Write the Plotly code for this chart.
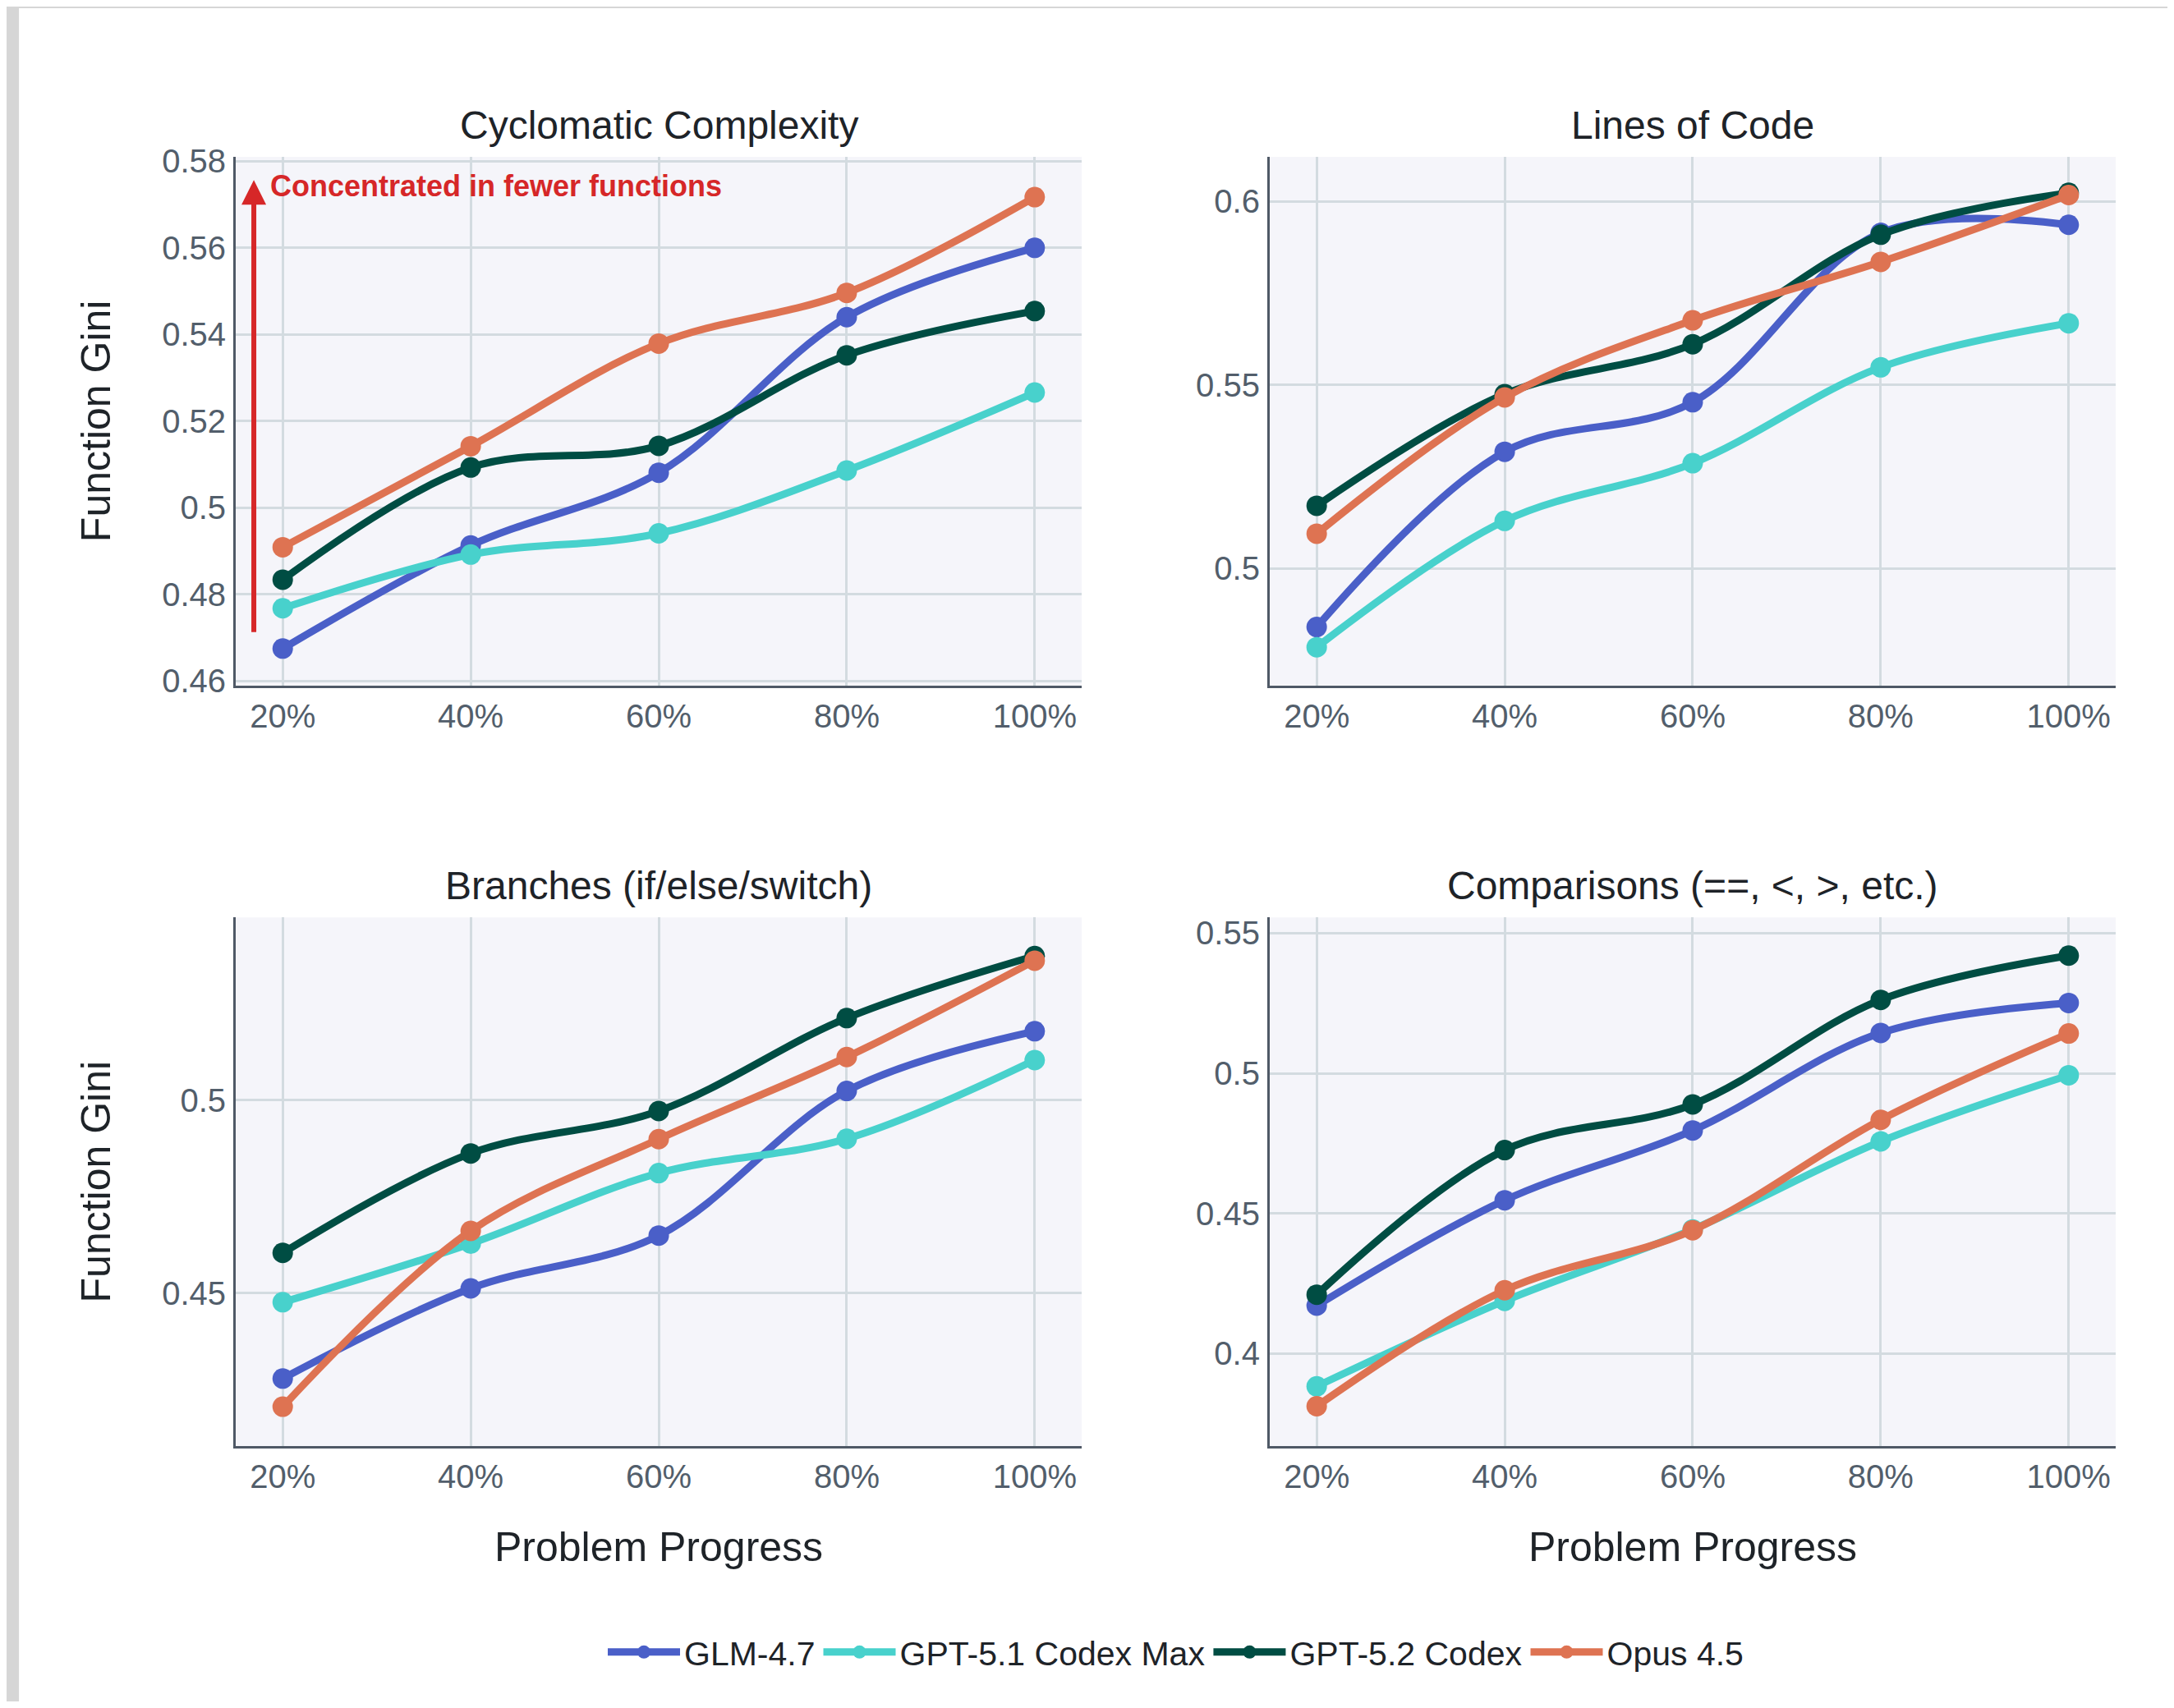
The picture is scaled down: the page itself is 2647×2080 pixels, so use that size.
import plotly.graph_objects as go
from plotly.subplots import make_subplots

# ---------------- data ----------------
progress = ["20%", "40%", "60%", "80%", "100%"]
models = ["GLM-4.7", "GPT-5.1 Codex Max", "GPT-5.2 Codex", "Opus 4.5"]
model_colors = ["#4a5fc8", "#48d1cc", "#004d43", "#de7352"]
panel_titles = ["Cyclomatic Complexity", "Lines of Code",
                "Branches (if/else/switch)", "Comparisons (==, <, >, etc.)"]

# Cyclomatic Complexity
cc_glm = [0.4675, 0.4913, 0.5081, 0.5440, 0.5600]
cc_gpt51 = [0.4768, 0.4892, 0.4941, 0.5086, 0.5266]
cc_gpt52 = [0.4834, 0.5093, 0.5143, 0.5352, 0.5454]
cc_opus = [0.4909, 0.5142, 0.5379, 0.5496, 0.5717]

# Lines of Code
loc_glm = [0.4841, 0.5318, 0.5453, 0.5914, 0.5936]
loc_gpt51 = [0.4786, 0.5130, 0.5287, 0.5548, 0.5668]
loc_gpt52 = [0.5171, 0.5475, 0.5611, 0.5909, 0.6023]
loc_opus = [0.5095, 0.5466, 0.5676, 0.5835, 0.6017]

# Branches
br_glm = [0.4278, 0.4512, 0.4649, 0.5024, 0.5179]
br_gpt51 = [0.4476, 0.4628, 0.4811, 0.4900, 0.5104]
br_gpt52 = [0.4604, 0.4862, 0.4972, 0.5213, 0.5374]
br_opus = [0.4205, 0.4661, 0.4899, 0.5112, 0.5362]

# Comparisons
cmp_glm = [0.4171, 0.4547, 0.4796, 0.5144, 0.5251]
cmp_gpt51 = [0.3883, 0.4188, 0.4443, 0.4757, 0.4993]
cmp_gpt52 = [0.4210, 0.4726, 0.4889, 0.5262, 0.5420]
cmp_opus = [0.3812, 0.4226, 0.4440, 0.4834, 0.5142]

panels = [
    [cc_glm, cc_gpt51, cc_gpt52, cc_opus],
    [loc_glm, loc_gpt51, loc_gpt52, loc_opus],
    [br_glm, br_gpt51, br_gpt52, br_opus],
    [cmp_glm, cmp_gpt51, cmp_gpt52, cmp_opus],
]
y_ranges = [[0.459, 0.581], [0.4682, 0.6121], [0.4103, 0.5474], [0.367, 0.5556]]
y_dticks = [0.02, 0.05, 0.05, 0.05]

annotation_text = "Concentrated in fewer functions"

# ---------------- figure ----------------
FONT = "Liberation Sans, Arial, Helvetica, sans-serif"
TITLE_COLOR = "#1e2328"
TICK_COLOR = "#525e6b"

fig = make_subplots(rows=2, cols=2, subplot_titles=panel_titles,
                    horizontal_spacing=0.1, vertical_spacing=0.18)

for p, series in enumerate(panels):
    r, c = p // 2 + 1, p % 2 + 1
    for m, vals in enumerate(series):
        fig.add_trace(go.Scatter(
            x=progress, y=vals, name=models[m], mode="lines+markers",
            line=dict(color=model_colors[m], width=9, shape="spline"),
            marker=dict(color=model_colors[m], size=25),
            legendgroup=models[m], showlegend=(p == 0),
        ), row=r, col=c)

for p in range(4):
    r, c = p // 2 + 1, p % 2 + 1
    fig.update_xaxes(range=[-0.25, 4.25], showgrid=True, gridcolor="#d3dbe0",
                     gridwidth=3, showline=True, linecolor="#4f5966", linewidth=3,
                     ticks="", tickfont=dict(size=40, color=TICK_COLOR, family=FONT),
                     zeroline=False, row=r, col=c)
    fig.update_yaxes(range=y_ranges[p], dtick=y_dticks[p], showgrid=True,
                     gridcolor="#d3dbe0", gridwidth=3, showline=True,
                     linecolor="#4f5966", linewidth=3,
                     ticks="outside", ticklen=1, tickcolor="rgba(0,0,0,0)",
                     tickfont=dict(size=40, color=TICK_COLOR, family=FONT),
                     zeroline=False, row=r, col=c)

for c in (1, 2):
    fig.update_xaxes(title=dict(text="Problem Progress", standoff=47,
                                font=dict(size=50, color=TITLE_COLOR, family=FONT)),
                     row=2, col=c)
for r in (1, 2):
    fig.update_yaxes(title=dict(text="Function Gini", standoff=47,
                                font=dict(size=50, color=TITLE_COLOR, family=FONT)),
                     row=r, col=1)

for ann in fig.layout.annotations:
    ann.font = dict(size=48, color=TITLE_COLOR, family=FONT)
    ann.yshift = 10

# red arrow + label in first panel
fig.add_annotation(x=0.0214, y=0.956, xref="x domain", yref="y domain",
                   text="", showarrow=True, arrowhead=2, arrowsize=1,
                   arrowwidth=6, arrowcolor="#d62728", ax=0, ay=552,
                   standoff=0, startstandoff=0)
fig.add_annotation(x=0.039, y=0.9456, xref="x domain", yref="y domain",
                   text="<b>" + annotation_text + "</b>", showarrow=False,
                   xanchor="left", yanchor="middle",
                   font=dict(size=36, color="#d62728", family=FONT))

# gray page edges (left and top strips)
fig.add_shape(type="rect", xref="paper", yref="paper", x0=-0.5, x1=-0.1153,
              y0=-1, y1=2, fillcolor="#d6d6d6", line=dict(width=0), layer="above")
fig.add_shape(type="rect", xref="paper", yref="paper", x0=-0.5, x1=1.5,
              y0=1.1153, y1=2, fillcolor="#d6d6d6", line=dict(width=0), layer="above")

fig.update_layout(
    width=2631, height=2064,
    margin=dict(l=279, r=63, t=183, b=311),
    paper_bgcolor="white", plot_bgcolor="#f5f5fa",
    font=dict(family=FONT, size=40, color=TITLE_COLOR),
    legend=dict(orientation="h", x=0.5, xanchor="center", y=-0.16,
                yanchor="middle", font=dict(size=41, color=TITLE_COLOR, family=FONT),
                itemwidth=88, bgcolor="rgba(0,0,0,0)"),
)

fig.write_html("out.html")
